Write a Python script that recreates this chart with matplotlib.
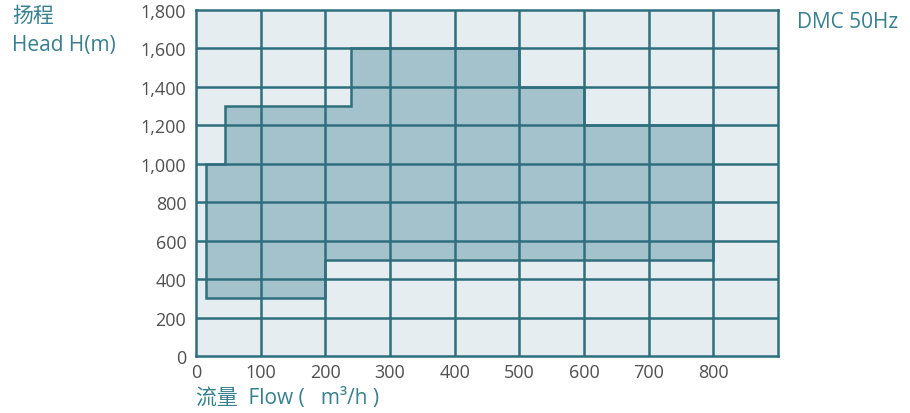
import matplotlib
matplotlib.use("Agg")
import matplotlib.pyplot as plt
from matplotlib.patches import Polygon
from matplotlib.ticker import FuncFormatter

plt.rcParams['font.family'] = ['Open Sans', 'Noto Sans CJK SC', 'DejaVu Sans']

# Data: envelope of DMC 50Hz operating range (flow m3/h, head m)
flow_pts = [15, 15, 45, 45, 240, 240, 500, 500, 600, 600, 800, 800, 200, 200]
head_pts = [300, 1000, 1000, 1300, 1300, 1600, 1600, 1400, 1400, 1200, 1200, 500, 500, 300]
x_ticks = [0, 100, 200, 300, 400, 500, 600, 700, 800]
y_ticks = [0, 200, 400, 600, 800, 1000, 1200, 1400, 1600, 1800]

grid_c = '#2f6f7d'
fill_c = '#a3c2cb'
bg_c = '#e6edf0'
tick_c = '#505050'
label_c = '#37808f'

fig = plt.figure(figsize=(9.10, 4.14), dpi=100)
ax = fig.add_axes([196/910, 1 - 357/414, (778-196)/910, (357-11)/414])
ax.set_facecolor(bg_c)
ax.set_xlim(0, 900)
ax.set_ylim(0, 1800)

poly = Polygon(list(zip(flow_pts, head_pts)), closed=True, facecolor=fill_c,
               edgecolor=grid_c, linewidth=1.8, zorder=1)
ax.add_patch(poly)

for xv in range(100, 900, 100):
    ax.axvline(xv, color=grid_c, lw=1.8, zorder=2)
for yv in y_ticks[1:-1]:
    ax.axhline(yv, color=grid_c, lw=1.8, zorder=2)
for s in ax.spines.values():
    s.set_color(grid_c)
    s.set_linewidth(1.8)

ax.set_xticks(x_ticks)
ax.set_yticks(y_ticks)
ax.yaxis.set_major_formatter(FuncFormatter(lambda v, p: f"{int(v):,}"))
ax.tick_params(axis='both', colors=tick_c, labelsize=13, length=0, pad=5)
ax.tick_params(axis='y', pad=7)

fs = 15
fig.text(12/910, 1 - 16/414, '扬程', color=label_c, fontsize=fs, va='center', ha='left', fontweight='medium')
fig.text(12/910, 1 - 46/414, 'Head H(m)', color=label_c, fontsize=fs, va='center', ha='left', fontweight='medium')
fig.text(797/910, 1 - 22/414, 'DMC 50Hz', color=label_c, fontsize=fs, va='center', ha='left', fontweight='medium')
fig.text(196/910, 1 - 399/414, '流量  Flow (   m³/h )', color=label_c, fontsize=fs, va='center', ha='left', fontweight='medium')

fig.savefig('out.png', dpi=100)
